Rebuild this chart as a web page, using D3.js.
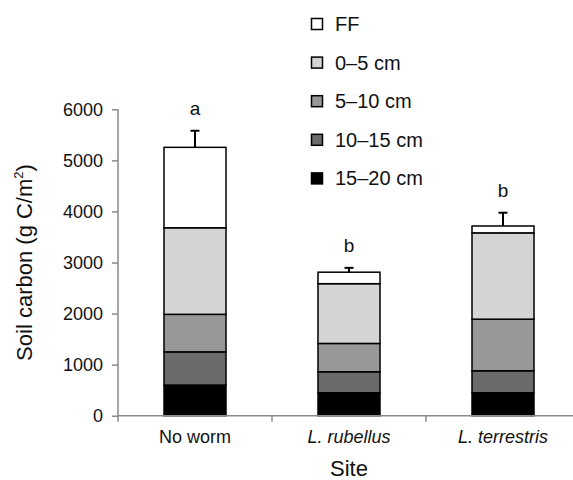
<!DOCTYPE html>
<html>
<head>
<meta charset="utf-8">
<script src="https://cdn.jsdelivr.net/npm/d3@7"></script>
<style>
  body { margin: 0; background: #fff; }
  svg { display: block; font-family: "Liberation Sans", Arial, Helvetica, sans-serif; }
</style>
</head>
<body>
<svg id="chart" width="573" height="480"></svg>
<script>
// ---- data ----
const sites = ["No worm", "L. rubellus", "L. terrestris"];
const italicSites = [false, true, true];
const layers = ["15–20 cm", "10–15 cm", "5–10 cm", "0–5 cm", "FF"];
const layerColors = ["#000000", "#6b6b6b", "#989898", "#d4d4d4", "#ffffff"];
const depth15_20 = [600, 450, 450];
const depth10_15 = [650, 410, 430];
const depth5_10 = [735, 555, 1010];
const depth0_5 = [1695, 1170, 1690];
const ffLayer = [1575, 225, 135];
const errorSE = [325, 85, 260];
const sigLetters = ["a", "b", "b"];
const yTicks = [0, 1000, 2000, 3000, 4000, 5000, 6000];
const legendOrder = ["FF", "0–5 cm", "5–10 cm", "10–15 cm", "15–20 cm"];

const layerValues = [depth15_20, depth10_15, depth5_10, depth0_5, ffLayer];

const svg = d3.select("#chart");
const mLeft = 118, mRight = 580, mTop = 109.3, mBottom = 415.7;
const axisColor = "#8a8a8a";

const pIn = 1 - 62 / 154;
const x = d3.scaleBand().domain(sites).range([mLeft, mRight]).paddingInner(pIn).paddingOuter(pIn / 2);
const y = d3.scaleLinear().domain([0, 6000]).range([mBottom, mTop]);

// stacked data
const rows = sites.map((s, i) => {
  const r = { site: s };
  layers.forEach((l, j) => r[l] = layerValues[j][i]);
  return r;
});
const stack = d3.stack().keys(layers)(rows);

// bars
stack.forEach((series, j) => {
  svg.append("g").selectAll("rect").data(series).join("rect")
    .attr("x", d => x(d.data.site))
    .attr("y", d => y(d[1]))
    .attr("width", x.bandwidth())
    .attr("height", d => y(d[0]) - y(d[1]))
    .attr("fill", layerColors[j])
    .attr("stroke", "#000")
    .attr("stroke-width", 1.5);
});

// error bars
const totals = rows.map(r => d3.sum(layers, l => r[l]));
const eg = svg.append("g").attr("stroke", "#000").attr("stroke-width", 2);
sites.forEach((s, i) => {
  const cx = x(s) + x.bandwidth() / 2;
  eg.append("line").attr("x1", cx).attr("x2", cx)
    .attr("y1", y(totals[i])).attr("y2", y(totals[i] + errorSE[i]));
  eg.append("line").attr("x1", cx - 4.5).attr("x2", cx + 4.5)
    .attr("y1", y(totals[i] + errorSE[i])).attr("y2", y(totals[i] + errorSE[i]));
  svg.append("text").attr("x", cx).attr("y", y(totals[i] + errorSE[i]) - 16)
    .attr("text-anchor", "middle").attr("font-size", 19).attr("fill", "#111")
    .text(sigLetters[i]);
});

// y axis
const yAxis = svg.append("g").attr("transform", `translate(${mLeft},0)`)
  .call(d3.axisLeft(y).tickValues(yTicks).tickFormat(d3.format("d")).tickSize(6).tickPadding(9));
yAxis.select(".domain").attr("stroke", axisColor).attr("stroke-width", 1.5).attr("d", `M0,${mBottom}V${mTop}`);
yAxis.selectAll(".tick line").attr("stroke", axisColor).attr("stroke-width", 1.5);
yAxis.selectAll(".tick text").attr("font-size", 18).attr("fill", "#111").attr("font-family", "Liberation Sans, Arial, sans-serif");

// x axis
const xg = svg.append("g");
xg.append("line").attr("x1", mLeft).attr("x2", mRight).attr("y1", mBottom).attr("y2", mBottom)
  .attr("stroke", axisColor).attr("stroke-width", 1.5);
const bounds = sites.map(s => x(s) - x.step() * pIn / 2).concat([mRight]);
xg.selectAll("line.tk").data(bounds).join("line").attr("class", "tk")
  .attr("x1", d => d).attr("x2", d => d).attr("y1", mBottom).attr("y2", mBottom + 6)
  .attr("stroke", axisColor).attr("stroke-width", 1.5);
xg.selectAll("text").data(sites).join("text")
  .attr("x", d => x(d) + x.bandwidth() / 2).attr("y", 443)
  .attr("text-anchor", "middle").attr("font-size", 18).attr("fill", "#111")
  .attr("font-style", (d, i) => italicSites[i] ? "italic" : "normal")
  .text(d => d);

// axis titles
svg.append("text").attr("x", (mLeft + mRight) / 2).attr("y", 476)
  .attr("text-anchor", "middle").attr("font-size", 22).attr("fill", "#111").text("Site");
const yt = svg.append("text")
  .attr("transform", `translate(32,${(mTop + mBottom) / 2}) rotate(-90)`)
  .attr("text-anchor", "middle").attr("font-size", 22).attr("fill", "#111");
yt.append("tspan").text("Soil carbon (g C/m");
yt.append("tspan").attr("font-size", 13).attr("dy", -9).text("2");
yt.append("tspan").attr("dy", 9).text(")");

// legend
const lg = svg.append("g");
legendOrder.forEach((name, k) => {
  const cy = 24 + k * 38.6;
  const j = layers.indexOf(name);
  lg.append("rect").attr("x", 311.5).attr("y", cy - 5.5).attr("width", 11).attr("height", 11)
    .attr("fill", layerColors[j]).attr("stroke", "#000").attr("stroke-width", 1.5);
  lg.append("text").attr("x", 335).attr("y", cy + 7).attr("font-size", 20).attr("fill", "#111").text(name);
});
</script>
</body>
</html>
